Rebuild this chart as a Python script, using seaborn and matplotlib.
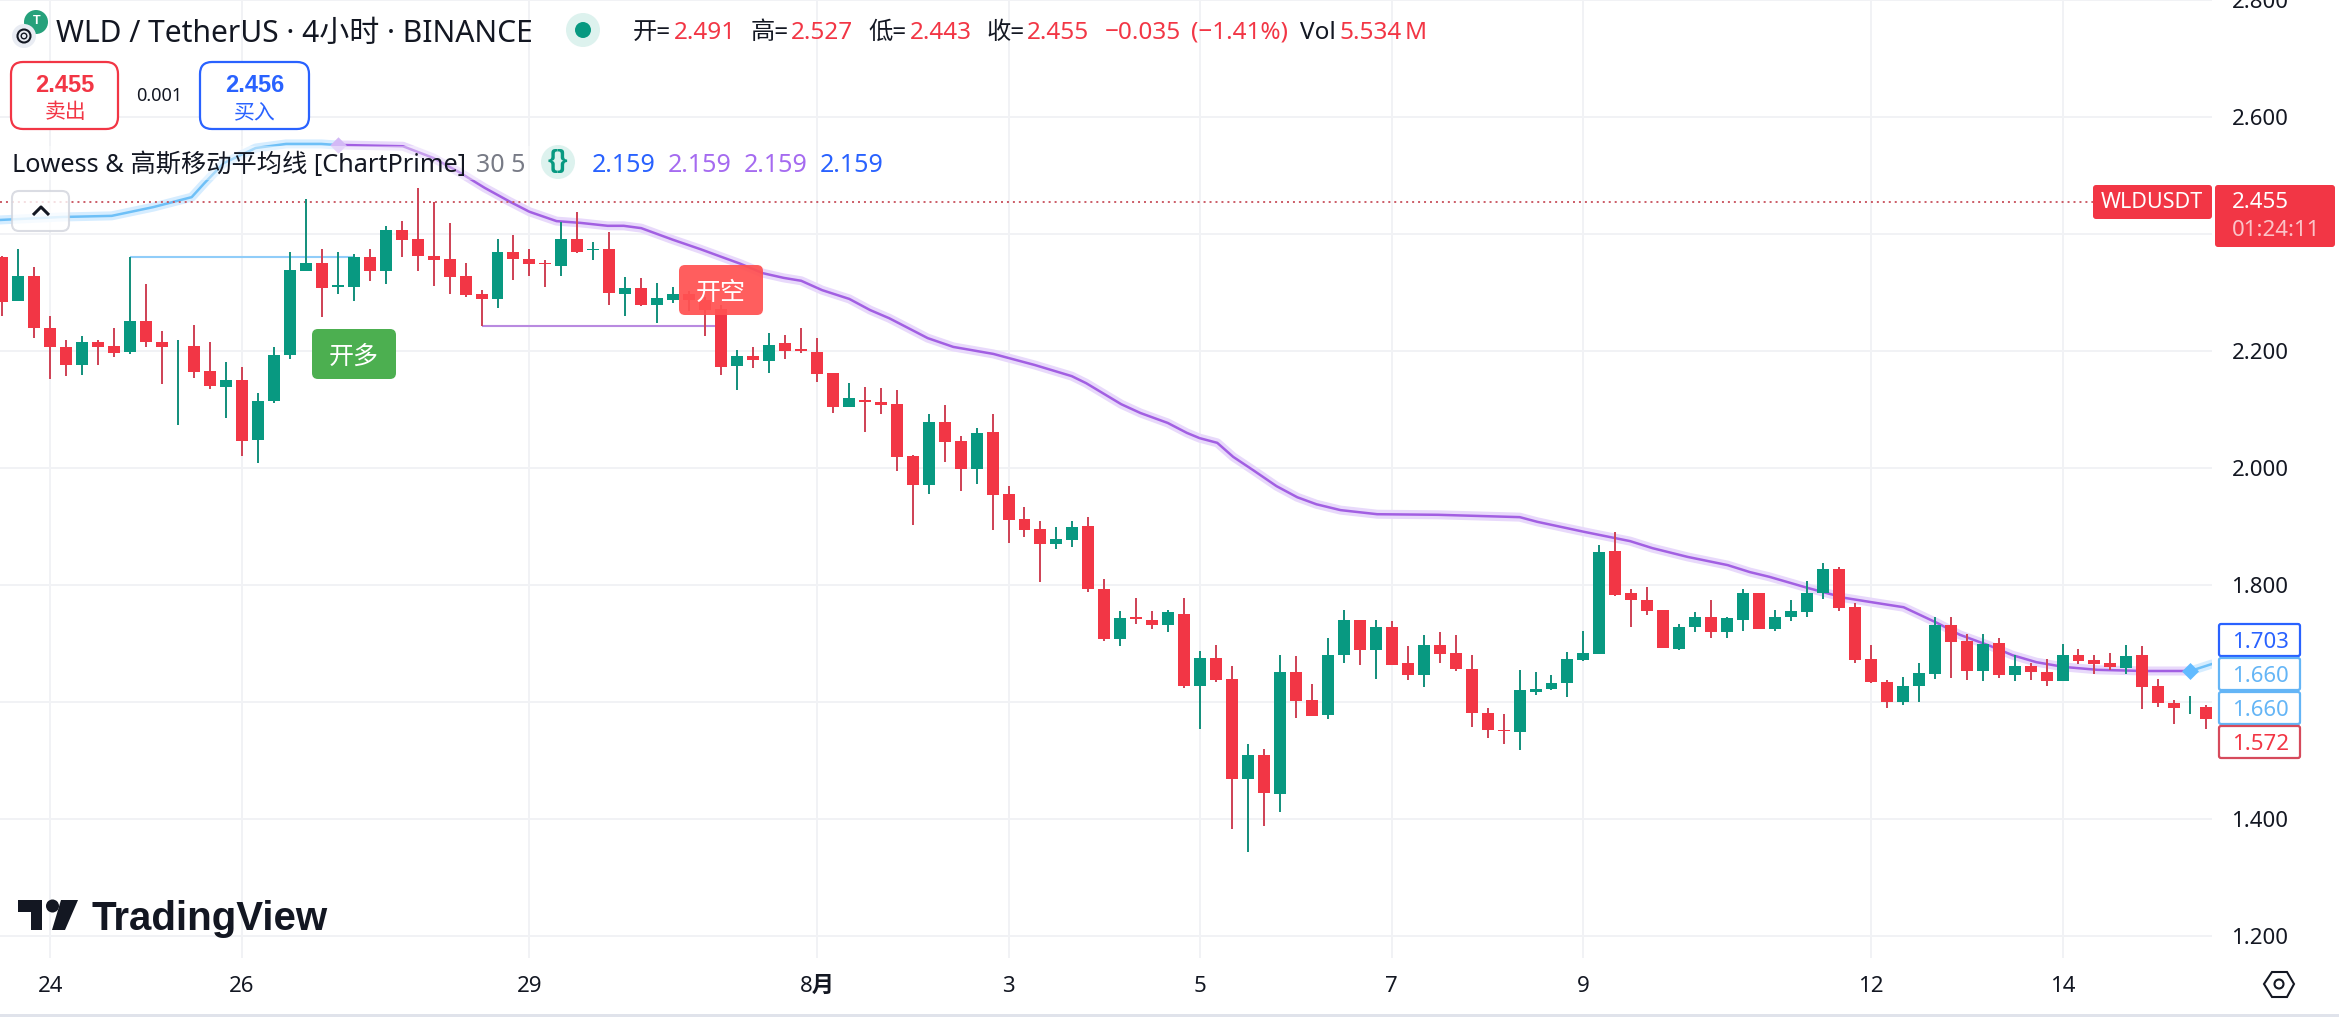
import numpy as np
import pandas as pd
import matplotlib
matplotlib.use('Agg')
import matplotlib.pyplot as plt
from matplotlib.patches import FancyBboxPatch, Circle, Polygon, Rectangle
import seaborn as sns

# 4h candles, one value per bar
opens = [2.361, 2.285, 2.328, 2.240, 2.206, 2.176, 2.216, 2.208, 2.198, 2.252,
         2.216, 2.208, 2.208, 2.165, 2.138, 2.151, 2.048, 2.114, 2.193, 2.337,
         2.350, 2.310, 2.309, 2.360, 2.337, 2.406, 2.391, 2.363, 2.358, 2.328,
         2.297, 2.289, 2.370, 2.357, 2.350, 2.345, 2.391, 2.373, 2.374, 2.297,
         2.307, 2.278, 2.288, 2.298, 2.288, 2.271, 2.174, 2.192, 2.183, 2.213,
         2.203, 2.199, 2.162, 2.104, 2.117, 2.112, 2.109, 2.020, 1.971, 2.078,
         2.047, 1.998, 2.061, 1.955, 1.912, 1.895, 1.870, 1.877, 1.900, 1.793,
         1.708, 1.745, 1.741, 1.732, 1.751, 1.627, 1.675, 1.640, 1.468, 1.510,
         1.443, 1.652, 1.604, 1.578, 1.680, 1.741, 1.689, 1.728, 1.666, 1.646,
         1.697, 1.683, 1.657, 1.582, 1.552, 1.549, 1.617, 1.622, 1.632, 1.672,
         1.682, 1.858, 1.786, 1.775, 1.757, 1.691, 1.728, 1.745, 1.720, 1.740,
         1.787, 1.724, 1.745, 1.754, 1.786, 1.827, 1.762, 1.673, 1.635, 1.600,
         1.627, 1.648, 1.731, 1.704, 1.653, 1.700, 1.646, 1.661, 1.651, 1.636,
         1.680, 1.671, 1.666, 1.658, 1.680, 1.627, 1.599, 1.591, 1.591]
highs = [2.362, 2.375, 2.343, 2.260, 2.219, 2.225, 2.219, 2.240, 2.360, 2.314,
         2.235, 2.219, 2.244, 2.215, 2.182, 2.172, 2.129, 2.206, 2.369, 2.459,
         2.374, 2.369, 2.365, 2.375, 2.413, 2.422, 2.478, 2.455, 2.418, 2.350,
         2.304, 2.391, 2.399, 2.375, 2.355, 2.420, 2.437, 2.387, 2.404, 2.326,
         2.324, 2.316, 2.310, 2.302, 2.292, 2.278, 2.201, 2.206, 2.230, 2.228,
         2.240, 2.223, 2.162, 2.146, 2.139, 2.136, 2.134, 2.022, 2.092, 2.107,
         2.054, 2.068, 2.093, 1.970, 1.934, 1.910, 1.899, 1.910, 1.917, 1.810,
         1.755, 1.777, 1.755, 1.757, 1.777, 1.687, 1.697, 1.661, 1.529, 1.519,
         1.680, 1.678, 1.630, 1.709, 1.758, 1.741, 1.741, 1.738, 1.695, 1.714,
         1.719, 1.714, 1.680, 1.589, 1.579, 1.654, 1.652, 1.647, 1.686, 1.722,
         1.868, 1.890, 1.793, 1.796, 1.758, 1.734, 1.753, 1.775, 1.745, 1.794,
         1.787, 1.758, 1.775, 1.806, 1.837, 1.830, 1.769, 1.697, 1.637, 1.642,
         1.666, 1.746, 1.746, 1.716, 1.716, 1.709, 1.680, 1.666, 1.673, 1.700,
         1.690, 1.680, 1.683, 1.697, 1.695, 1.639, 1.603, 1.611, 1.595]
lows = [2.259, 2.285, 2.222, 2.152, 2.157, 2.159, 2.176, 2.190, 2.195, 2.207,
        2.143, 2.073, 2.154, 2.135, 2.085, 2.020, 2.008, 2.111, 2.186, 2.337,
        2.258, 2.297, 2.285, 2.320, 2.314, 2.361, 2.337, 2.311, 2.297, 2.292,
        2.242, 2.273, 2.321, 2.328, 2.309, 2.328, 2.367, 2.355, 2.278, 2.260,
        2.277, 2.248, 2.282, 2.268, 2.225, 2.159, 2.133, 2.171, 2.162, 2.186,
        2.196, 2.147, 2.094, 2.104, 2.061, 2.092, 1.995, 1.903, 1.956, 2.011,
        1.961, 1.973, 1.894, 1.872, 1.882, 1.805, 1.861, 1.865, 1.788, 1.704,
        1.696, 1.733, 1.725, 1.720, 1.624, 1.554, 1.634, 1.383, 1.343, 1.388,
        1.412, 1.572, 1.576, 1.571, 1.667, 1.663, 1.639, 1.663, 1.637, 1.626,
        1.667, 1.653, 1.557, 1.538, 1.528, 1.518, 1.612, 1.620, 1.608, 1.670,
        1.682, 1.781, 1.728, 1.749, 1.692, 1.689, 1.720, 1.709, 1.709, 1.721,
        1.725, 1.721, 1.738, 1.745, 1.776, 1.755, 1.667, 1.632, 1.590, 1.595,
        1.600, 1.639, 1.641, 1.637, 1.636, 1.641, 1.636, 1.637, 1.627, 1.636,
        1.665, 1.648, 1.655, 1.648, 1.588, 1.591, 1.562, 1.579, 1.554]
closes = [2.284, 2.328, 2.239, 2.207, 2.176, 2.216, 2.207, 2.197, 2.251, 2.215,
          2.207, 2.209, 2.164, 2.140, 2.151, 2.046, 2.115, 2.194, 2.338, 2.350,
          2.308, 2.312, 2.360, 2.337, 2.406, 2.390, 2.362, 2.355, 2.326, 2.295,
          2.289, 2.369, 2.357, 2.349, 2.348, 2.391, 2.370, 2.375, 2.299, 2.307,
          2.278, 2.290, 2.298, 2.287, 2.270, 2.173, 2.192, 2.184, 2.211, 2.200,
          2.200, 2.161, 2.104, 2.119, 2.113, 2.108, 2.019, 1.971, 2.078, 2.044,
          1.998, 2.059, 1.954, 1.911, 1.894, 1.870, 1.878, 1.900, 1.793, 1.708,
          1.743, 1.742, 1.732, 1.753, 1.627, 1.675, 1.637, 1.468, 1.510, 1.444,
          1.652, 1.602, 1.576, 1.681, 1.741, 1.689, 1.728, 1.664, 1.646, 1.697,
          1.682, 1.656, 1.581, 1.552, 1.551, 1.620, 1.623, 1.632, 1.673, 1.683,
          1.856, 1.783, 1.774, 1.755, 1.692, 1.728, 1.745, 1.720, 1.743, 1.787,
          1.725, 1.746, 1.755, 1.787, 1.828, 1.761, 1.672, 1.634, 1.600, 1.628,
          1.649, 1.731, 1.702, 1.653, 1.700, 1.646, 1.661, 1.651, 1.636, 1.680,
          1.670, 1.665, 1.660, 1.678, 1.626, 1.598, 1.590, 1.592, 1.571]

# Lowess / gaussian moving average, sampled along the curve
ma_head_bars = [-0.15, 3.64, 6.84, 9.45, 11.85, 12.65, 13.85, 15.86, 17.76, 19.97, 21]
ma_head_vals = [2.424, 2.429, 2.431, 2.446, 2.463, 2.487, 2.521, 2.547, 2.554, 2.554, 2.552]
ma_bars = [21, 21.57, 25.08, 26.98, 28.58, 30.19, 31.79, 33.0, 34.7, 36.2, 37.9, 38.9, 40.0,
           42.0, 43.71, 44.91, 46.22, 47.62, 48.92, 50.02, 51.33, 53.03, 54.33, 55.53,
           57.94, 59.54, 62.05, 64.65, 66.96, 67.86, 70.06, 71.26, 72.97, 74.17, 74.97,
           76.07, 77.07, 78.28, 79.78, 81.08, 82.28, 83.79, 86.09, 89.9, 95.01, 96.11,
           99.02, 101.92, 103.32, 105.53, 108.03, 109.43, 110.64, 113.04, 115.35, 116.95,
           119.05, 121.16, 122.56, 124.46, 125.87, 127.37, 129.07, 131.18, 134.08, 137]
ma_vals = [2.552, 2.552, 2.550, 2.530, 2.506, 2.479, 2.455, 2.438, 2.422, 2.419, 2.414, 2.414, 2.410,
           2.390, 2.374, 2.362, 2.349, 2.333, 2.325, 2.320, 2.304, 2.289, 2.270, 2.256,
           2.222, 2.207, 2.195, 2.176, 2.157, 2.145, 2.109, 2.094, 2.077, 2.060, 2.051,
           2.043, 2.019, 1.997, 1.969, 1.950, 1.938, 1.928, 1.921, 1.920, 1.916, 1.908,
           1.891, 1.875, 1.863, 1.848, 1.834, 1.822, 1.814, 1.795, 1.778, 1.771,
           1.762, 1.735, 1.715, 1.696, 1.680, 1.668, 1.660, 1.655, 1.653, 1.653]
ma_tail_bars = [137, 138.36]
ma_tail_vals = [1.653, 1.665]

# structure levels
long_level = 2.360
long_bars = [8, 22]
short_level = 2.242
short_bars = [30, 45]
last_price = 2.455

tick_bars = [3, 15, 33, 51, 63, 75, 87, 99, 117, 129]
tick_labels = ['24', '26', '29', '8月', '3', '5', '7', '9', '12', '14']
price_ticks = [2.8, 2.6, 2.4, 2.2, 2.0, 1.8, 1.6, 1.4, 1.2]
price_labels = ['2.800', '2.600', '', '2.200', '2.000', '1.800', '', '1.400', '1.200']

RED = '#F23645'
GREEN = '#089981'
BLUE = '#2962FF'
SKY = '#64B5F6'
PURPLE = '#A56BF0'
INK = '#131722'

sns.set_theme(style='whitegrid', rc={'grid.color': '#F1F2F5', 'grid.linewidth': 1.44,
                                     'text.color': INK})
plt.rcParams['font.family'] = ['Noto Sans', 'Noto Sans CJK SC', 'DejaVu Sans']

df = pd.DataFrame({'open': opens, 'high': highs, 'low': lows, 'close': closes})
df['bar'] = np.arange(len(df))
df['body'] = (df['close'] - df['open']).abs()
df['base'] = df[['open', 'close']].min(axis=1)
up = df[df['close'] >= df['open']]
down = df[df['close'] < df['open']]

W, H = 2339, 1017
fig = plt.figure(figsize=(W / 100, H / 100), dpi=100, facecolor='white')
ax = fig.add_axes([0, (H - 958) / H, 2212 / W, 958 / H])

# indicator, glow first
for xs, ys, glow, main in [(ma_head_bars, ma_head_vals, '#D6EDFF', '#6EC0F7'),
                           (ma_bars, ma_vals, '#E8D9FB', '#A25FE2'),
                           (ma_tail_bars, ma_tail_vals, '#D6EDFF', '#6EC0F7')]:
    sns.lineplot(x=xs, y=ys, sort=False, errorbar=None, color=glow, linewidth=6.5, ax=ax, zorder=1.5)
    sns.lineplot(x=xs, y=ys, sort=False, errorbar=None, color=main, linewidth=1.8, ax=ax, zorder=1.6)

ax.hlines(long_level, *long_bars, color='#90CDF9', lw=1.5, zorder=1.8)
ax.hlines(short_level, *short_bars, color='#B98AE0', lw=1.5, zorder=1.8)
ax.axhline(last_price, color='#C8505C', lw=1.3, dashes=(1.1, 2.2), zorder=1.7)

# candles
ax.vlines(up['bar'], up['low'], up['high'], color='#17917E', lw=1.44, zorder=2)
ax.vlines(down['bar'], down['low'], down['high'], color='#CF4558', lw=1.44, zorder=2)
sns.barplot(x=up['bar'].values, y=up['body'].values, bottom=up['base'].values, native_scale=True,
            width=0.75, color=GREEN, saturation=1, linewidth=0, errorbar=None, ax=ax, zorder=3)
sns.barplot(x=down['bar'].values, y=down['body'].values, bottom=down['base'].values, native_scale=True,
            width=0.75, color=RED, saturation=1, linewidth=0, errorbar=None, ax=ax, zorder=3)

# turn markers
sns.scatterplot(x=[ma_bars[0]], y=[ma_vals[0]], marker='D', s=70, color='#D3B8F6', linewidth=0, ax=ax, zorder=4)
sns.scatterplot(x=[ma_tail_bars[0]], y=[ma_tail_vals[0]], marker='D', s=75, color='#62BBFF', linewidth=0, ax=ax, zorder=4)

ax.set_xlim(-0.153, 138.36)
ax.set_ylim(2.8 - 958 / 585, 2.8)
ax.set_xticks(tick_bars, tick_labels)
ax.set_yticks(price_ticks, price_labels)
ax.set_xlabel('')
ax.set_ylabel('')
ax.yaxis.tick_right()
ax.tick_params(axis='x', length=0, pad=13, labelsize=16, colors=INK)
ax.tick_params(axis='y', length=0, pad=14, labelsize=16, colors=INK)
ax.get_xticklabels()[3].set_fontweight('bold')
ax.grid(True)
ax.set_axisbelow(True)
sns.despine(ax=ax, left=True, right=True, top=True, bottom=True)

# everything around the chart is laid out in screen pixels
ui = fig.add_axes([0, 0, 1, 1], zorder=5)
ui.set_xlim(0, W)
ui.set_ylim(H, 0)
ui.set_axis_off()


def box(x0, y0, x1, y1, face='white', edge='none', lw=0, r=6, alpha=None):
    ui.add_patch(FancyBboxPatch((x0, y0), x1 - x0, y1 - y0, boxstyle=f'round,pad=0,rounding_size={r}',
                                facecolor=face, edgecolor=edge, linewidth=lw, alpha=alpha))


def label(x, y, s, size=17.5, color=INK, ha='left', **kw):
    ui.text(x, y, s, fontsize=size, color=color, ha=ha, va='center', **kw)


# symbol icons and title
ui.add_patch(Circle((36, 22), 12, facecolor='#26A17B', edgecolor='none'))
label(37, 21, 'T', size=9, color='white', ha='center', family='Liberation Sans', fontweight='bold')
ui.add_patch(Circle((24, 36), 12, facecolor='#E9ECF3', edgecolor='none'))
ui.add_patch(Circle((24, 36), 6.5, facecolor='none', edgecolor=INK, linewidth=1.5))
ui.add_patch(Circle((24, 36), 2.8, facecolor='none', edgecolor=INK, linewidth=1))
label(56, 34, 'WLD / TetherUS · 4小时 · BINANCE', size=21.6)
ui.add_patch(Circle((583, 30), 17, facecolor='#DDF2EE', edgecolor='none'))
ui.add_patch(Circle((583, 30), 8, facecolor=GREEN, edgecolor='none'))

# OHLC row
for x, s, c in [(633, '开=', INK), (674, '2.491', RED), (751, '高=', INK), (791, '2.527', RED),
                (868, '低=', INK), (910, '2.443', RED), (987, '收=', INK), (1027, '2.455', RED),
                (1105, '−0.035', RED), (1191, '(−1.41%)', RED), (1300, 'Vol', INK),
                (1339, '5.534', RED), (1405, 'M', RED)]:
    label(x, 33, s, size=17.5, color=c)

# sell / buy buttons
box(11, 62, 118, 129, edge=RED, lw=1.6, r=12)
box(200, 62, 309, 129, edge=BLUE, lw=1.6, r=12)
label(65, 86, '2.455', size=17, color=RED, ha='center', family='Liberation Sans', fontweight='bold')
label(65, 113, '卖出', size=15, color=RED, ha='center')
label(255, 86, '2.456', size=17, color=BLUE, ha='center', family='Liberation Sans', fontweight='bold')
label(255, 113, '买入', size=15, color=BLUE, ha='center')
label(159, 96, '0.001', size=13, ha='center')

# indicator legend
ui.add_patch(Rectangle((0, 146), 530, 34, facecolor='white', edgecolor='none', alpha=0.4))
label(12, 165, 'Lowess & 高斯移动平均线 [ChartPrime]', size=18.2)
label(476, 165, '30 5', size=18, color='#787B86')
ui.add_patch(Circle((558, 162), 17, facecolor='#DDF2EE', edgecolor='none'))
label(558, 161, '{}', size=19, color=GREEN, ha='center', family='Liberation Sans', fontweight='bold')
for x, c in [(592, BLUE), (668, PURPLE), (744, PURPLE), (820, BLUE)]:
    label(x, 165, '2.159', size=18, color=c)

# collapse button
box(12, 191, 69, 231, face='white', edge='#D1D4DC', lw=1.5, r=7, alpha=0.8)
ui.plot([33, 41, 49], [215, 207, 215], color=INK, lw=2.2, solid_capstyle='butt')

# signal tags
box(312, 329, 396, 379, face='#4CAF50', r=6)
label(354, 357, '开多', size=18, color='white', ha='center')
box(679, 265, 763, 315, face='#FF5252', r=6, alpha=0.93)
label(721, 293, '开空', size=18, color='white', ha='center')

# price scale tags
box(2093, 185, 2212, 219, face=RED, r=3)
label(2152, 202, 'WLDUSDT', size=15.5, color='white', ha='center')
box(2215, 185, 2335, 247, face=RED, r=3)
label(2232, 202, '2.455', size=16, color='white')
label(2232, 231, '01:24:11', size=16, color='#FBC3C8')
for y0, s, edge, text in [(624, '1.703', BLUE, BLUE), (658, '1.660', SKY, SKY),
                          (692, '1.660', SKY, SKY), (726, '1.572', '#D64A5C', RED)]:
    box(2219, y0, 2300, y0 + 32, edge=edge, lw=1.6, r=2)
    label(2232, y0 + 18, s, size=16, color=text)

# settings hexagon
ui.add_patch(Polygon([(2264, 984), (2272, 972), (2287, 972), (2294, 984), (2287, 997), (2272, 997)],
                     closed=True, facecolor='white', edgecolor=INK, linewidth=1.5))
ui.add_patch(Circle((2279, 984), 4.5, facecolor='white', edgecolor=INK, linewidth=1.5))

# logo
ui.add_patch(Polygon([(18, 900), (42, 900), (42, 930), (31, 930), (31, 912), (18, 912)], closed=True,
                     facecolor=INK, edgecolor='none'))
ui.add_patch(Circle((52.5, 906), 6.5, facecolor=INK, edgecolor='none'))
ui.add_patch(Polygon([(61, 900), (78, 900), (65, 930), (52, 930)], closed=True, facecolor=INK, edgecolor='none'))
ui.text(92, 930, 'TradingView', fontsize=29, color=INK, ha='left', va='baseline', family='Liberation Sans', fontweight='bold')

# frame line at the bottom of the widget
ui.add_patch(Rectangle((0, 1014), W, 3, facecolor='#E0E3EB', edgecolor='none'))

fig.savefig('out.png', dpi=100)
plt.close(fig)
